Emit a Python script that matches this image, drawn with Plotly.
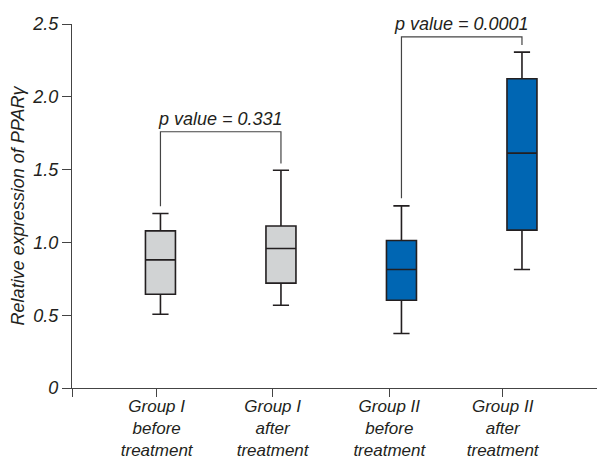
import plotly.graph_objects as go

# ---- data ----
categories = ["Group I<br>before<br>treatment", "Group I<br>after<br>treatment",
              "Group II<br>before<br>treatment", "Group II<br>after<br>treatment"]
lower_whisker = [0.507, 0.568, 0.374, 0.814]
q1_values     = [0.644, 0.720, 0.603, 1.084]
median_values = [0.880, 0.958, 0.814, 1.613]
q3_values     = [1.079, 1.113, 1.013, 2.124]
upper_whisker = [1.199, 1.496, 1.251, 2.307]
p_labels = ["p value = 0.331", "p value = 0.0001"]
y_ticks = [0, 0.5, 1.0, 1.5, 2.0, 2.5]
y_ticktext = ["0", "0.5", "1.0", "1.5", "2.0", "2.5"]

FONT = "Liberation Sans"
INK = "#231f20"
GRAY = "#d1d3d4"
BLUE = "#0066b3"

fig = go.Figure()
groups = [([0, 1], GRAY), ([2, 3], BLUE)]
for idx, color in groups:
    fig.add_trace(go.Box(
        x=idx,
        q1=[q1_values[i] for i in idx],
        median=[median_values[i] for i in idx],
        q3=[q3_values[i] for i in idx],
        lowerfence=[lower_whisker[i] for i in idx],
        upperfence=[upper_whisker[i] for i in idx],
        width=0.249,
        whiskerwidth=0.54,
        fillcolor=color,
        line=dict(color=INK, width=1.6),
        boxpoints=False,
        hoverinfo="skip",
        showlegend=False,
    ))

# significance brackets
brackets = [(0, 1, 1.76, 1.249, 1.542), (2, 3, 2.412, 1.304, 2.355)]
for (a, b, top, la, lb), lab in zip(brackets, p_labels):
    fig.add_shape(type="path",
                  path=f"M {a} {la} L {a} {top} L {b} {top} L {b} {lb}",
                  xref="x", yref="y", line=dict(color="#444444", width=1.2))
    fig.add_annotation(x=(a + b) / 2, y=top, text=lab, showarrow=False,
                       xref="x", yref="y", yanchor="bottom", yshift=1,
                       font=dict(family=FONT, size=18, color=INK, style="italic"))

# tick positions (the original labels sit slightly left of the boxes)
x_tickvals = [-0.734, -0.0315, 0.931, 1.899, 2.840]
x_ticktext = [""] + categories

# the page body adds an 8px margin, so the figure is 8px smaller than the window
fig.update_layout(
    width=597, height=452,
    margin=dict(l=64, r=0, t=16, b=72),
    paper_bgcolor="white", plot_bgcolor="white",
    boxmode="overlay",
    font=dict(family=FONT, size=18, color=INK, style="italic"),
    xaxis=dict(range=[-0.734, 3.689], showgrid=False, zeroline=False,
               automargin=False,
               showline=True, linecolor="#444444", linewidth=1.3,
               ticks="outside", ticklen=8, tickwidth=1.3, tickcolor="#444444",
               ticklabelstandoff=-6,
               tickvals=x_tickvals, ticktext=x_ticktext,
               tickfont=dict(family=FONT, size=17, color=INK, style="italic")),
    yaxis=dict(range=[0, 2.5], showgrid=False, zeroline=False,
               automargin=False,
               showline=True, linecolor="#444444", linewidth=1.3,
               ticks="outside", ticklen=9, tickwidth=1.3, tickcolor="#444444",
               tickvals=y_ticks, ticktext=y_ticktext,
               tickfont=dict(family=FONT, size=18, color=INK, style="italic"),
               title=dict(text="Relative expression of PPARγ", standoff=4,
                          font=dict(family=FONT, size=18, color=INK, style="italic"))),
)

fig.write_html("out.html")
